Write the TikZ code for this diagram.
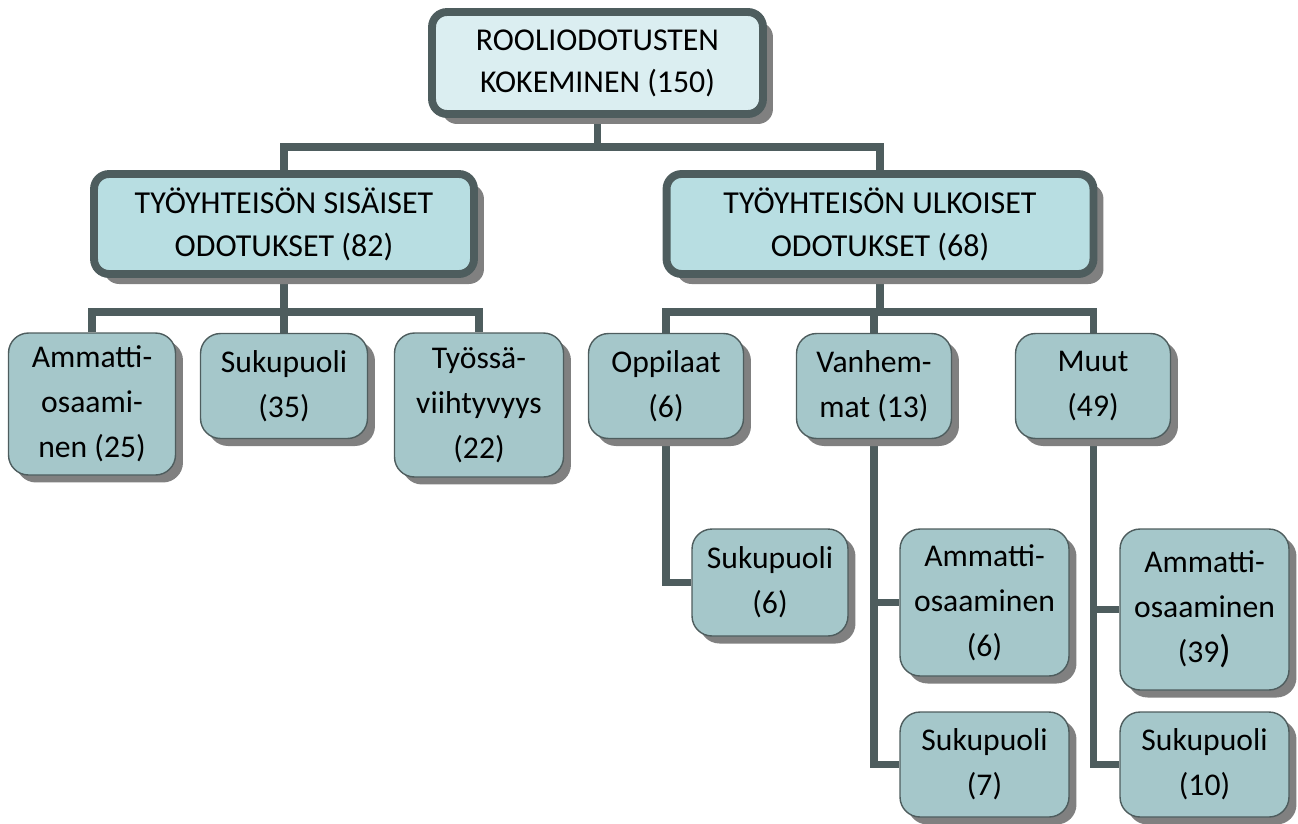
\documentclass[tikz,border=0pt]{standalone}
\usepackage{fontspec}
\setmainfont{Carlito}
\usetikzlibrary{positioning,
                calc,
                shadows,
            backgrounds}
\definecolor[named]{rootfill}{RGB}{219,238,241}
\definecolor[named]{groupfill}{RGB}{184,222,226}
\definecolor[named]{leaffill}{RGB}{165,199,202}
\definecolor[named]{edgegray}{RGB}{78,93,94}
\definecolor[named]{shadegray}{RGB}{128,128,128}

\begin{document}
\begin{tikzpicture}
       [x=0.02cm,y=-0.02cm,
        bigbox/.style={draw=edgegray,line width=4.5pt,
                       rounded corners=3mm,align=center,
                       font=\fontsize{18.2}{24.5}\selectfont,
                       drop shadow={shadow xshift=0.2cm,shadow yshift=-0.2cm,
                                    fill=shadegray,opacity=1}},
        topbox/.style={bigbox,fill=rootfill,
                       minimum width=6.62cm,minimum height=2.04cm,
                       font=\fontsize{18.1}{24}\selectfont},
        groupbox/.style={bigbox,fill=groupfill,minimum height=2cm},
        leafbox/.style={fill=leaffill,draw=edgegray,line width=0.8pt,
                        rounded corners=4mm,align=center,
                        font=\fontsize{18}{25.5}\selectfont,
                        drop shadow={shadow xshift=0.15cm,shadow yshift=-0.15cm,
                                     fill=shadegray,opacity=1}},
        conn/.style={draw=edgegray,line width=4pt}]
       \useasboundingbox (0,0) rectangle (1298,823);

       % top level
       \node [topbox] (root) at (597.5,63) {ROOLIODOTUSTEN\\KOKEMINEN (150)};

       % second level
       \node [groupbox,minimum width=7.6cm]  (sisaiset) at (284,224) {TYÖYHTEISÖN SISÄISET\\ODOTUKSET (82)};
       \node [groupbox,minimum width=8.54cm] (ulkoiset) at (880,224) {TYÖYHTEISÖN ULKOISET\\ODOTUKSET (68)};

       % third level
       \node [leafbox,minimum width=3.34cm,minimum height=2.84cm] (ammatti)   at (92,404)   {Ammatti-\\osaami-\\nen (25)};
       \node [leafbox,minimum width=3.34cm,minimum height=2.1cm]  (sukupuoli) at (284,386)  {Sukupuoli\\(35)};
       \node [leafbox,minimum width=3.38cm,minimum height=2.88cm] (tyossa)    at (479,405)  {Työssä-\\viihtyvyys\\(22)};
       \node [leafbox,minimum width=3.1cm,minimum height=2.1cm]   (oppilaat)  at (666,386)  {Oppilaat\\(6)};
       \node [leafbox,minimum width=3.1cm,minimum height=2.1cm]   (vanhemmat) at (874,386)  {Vanhem-\\mat (13)};
       \node [leafbox,minimum width=3.1cm,minimum height=2.1cm]   (muut)      at (1093,386) {Muut\\(49)};

       % fourth level
       \node [leafbox,minimum width=3.12cm,minimum height=2.14cm] (oppsuku)  at (770,582.5)   {Sukupuoli\\(6)};
       \node [leafbox,minimum width=3.38cm,minimum height=2.94cm] (vanamm)   at (984.5,602.5) {Ammatti-\\osaaminen\\(6)};
       \node [leafbox,minimum width=3.38cm,minimum height=2.1cm]  (vansuku)  at (984.5,764.5) {Sukupuoli\\(7)};
       \node [leafbox,minimum width=3.38cm,minimum height=3.22cm] (muutamm)  at (1204.5,609.5) {Ammatti-\\osaaminen\\(39{\fontsize{22}{24}\selectfont)}};
       \node [leafbox,minimum width=3.38cm,minimum height=2.1cm]  (muutsuku) at (1204.5,764.5) {Sukupuoli\\(10)};

       \coordinate (rootjoin) at (597.5,147);
       \coordinate (sisjoin)  at (284,312);
       \coordinate (ulkjoin)  at (880,312);

       \begin{scope}[on background layer]
        \draw [conn] (root.south) -- (rootjoin);
        \draw [conn] (sisaiset.north) |- (rootjoin) -| (ulkoiset.north);
        \draw [conn] (sisaiset.south) -- (sukupuoli.north);
        \draw [conn] (ammatti.north) |- (sisjoin) -| (tyossa.north);
        \draw [conn] (ulkoiset.south) -- (ulkjoin);
        \draw [conn] (oppilaat.north) |- (ulkjoin) -| (muut.north);
        \draw [conn] (vanhemmat.north) -- (vanhemmat.north |- ulkjoin);
        \draw [conn] (oppilaat.south) |- (oppsuku.west);
        \draw [conn] (vanhemmat.south) |- (vanamm.west);
        \draw [conn] (vanhemmat.south) |- (vansuku.west);
        \draw [conn] (muut.south) |- (muutamm.west);
        \draw [conn] (muut.south) |- (muutsuku.west);
       \end{scope}
    \end{tikzpicture}
\end{document}
